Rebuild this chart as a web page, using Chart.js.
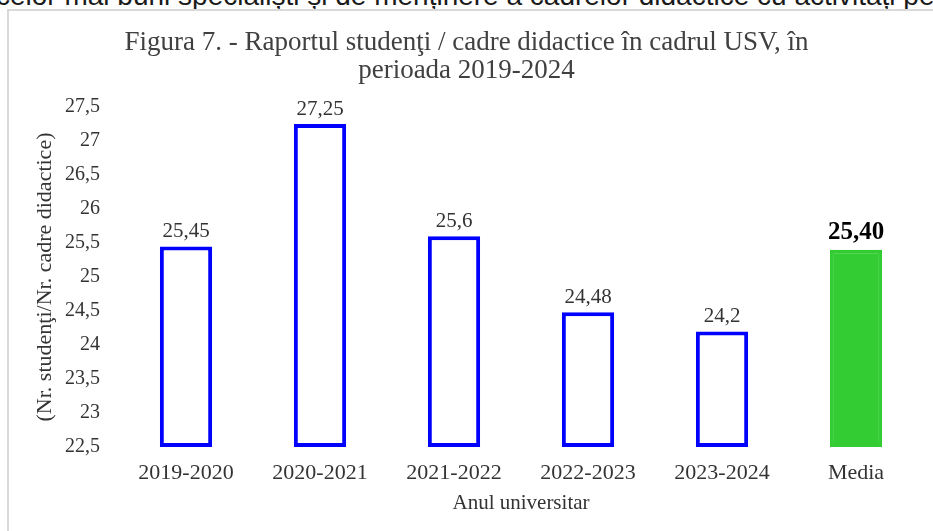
<!DOCTYPE html>
<html>
<head>
<meta charset="utf-8">
<script src="https://cdn.jsdelivr.net/npm/chart.js@4.4.1/dist/chart.umd.min.js"></script>
<style>
  html, body { margin: 0; padding: 0; background: #fff; overflow: hidden; }
  #page { position: relative; width: 933px; height: 531px; overflow: hidden; }
  #bodyText {
    position: absolute; left: -4px; top: -20px; white-space: nowrap;
    font-family: "Liberation Sans", Arial, sans-serif; font-size: 28px; color: #1a1a1a;
  }
  #frame {
    position: absolute; left: 7px; top: 9px; width: 1000px; height: 600px;
    border: 2px solid #d9d9d9;
  }
  #wrap { position: absolute; left: 0; top: 0; width: 933px; height: 531px; }
</style>
</head>
<body>
<div id="page">
  <div id="bodyText">celor mai buni specialiști și de menținere a cadrelor didactice cu activitați pe</div>
  <div id="frame"></div>
  <div id="wrap"><canvas id="myChart" width="933" height="531"></canvas></div>
</div>
<script>
const categories = ['2019-2020', '2020-2021', '2021-2022', '2022-2023', '2023-2024', 'Media'];
const ratios = [25.45, 27.25, 25.6, 24.48, 24.2, 25.40];
const yMin = 22.5;
const yMax = 27.5;
const yStep = 0.5;

const titleLines = ['Figura 7. - Raportul studenţi / cadre didactice în cadrul USV, în', 'perioada 2019-2024'];
const yTitle = '(Nr. studenţi/Nr. cadre didactice)';
const xTitle = 'Anul universitar';

const serif = '"Liberation Serif", "Times New Roman", serif';
const textColor = '#333333';

const fmt = (v) => String(v).replace('.', ',');

// value on top of every bar, media one in bold
const valueLabels = {
  id: 'valueLabels',
  afterDatasetsDraw(chart) {
    const ctx = chart.ctx;
    const meta = chart.getDatasetMeta(0);
    ctx.save();
    ctx.textAlign = 'center';
    ctx.textBaseline = 'alphabetic';
    meta.data.forEach((bar, i) => {
      const last = i === ratios.length - 1;
      ctx.font = (last ? 'bold 25px ' : '21px ') + serif;
      ctx.fillStyle = last ? '#000' : textColor;
      const txt = last ? fmt(ratios[i].toFixed(2)) : fmt(ratios[i]);
      ctx.fillText(txt, bar.x, bar.y - (last ? 11 : 9));
    });
    ctx.restore();
  }
};

const ctx = document.getElementById('myChart').getContext('2d');

new Chart(ctx, {
  type: 'bar',
  data: {
    labels: categories,
    datasets: [{
      data: ratios,
      base: yMin,
      backgroundColor: categories.map((c, i) => i === categories.length - 1 ? '#33CC33' : '#ffffff'),
      borderColor: categories.map((c, i) => i === categories.length - 1 ? '#33CC33' : '#0000FF'),
      borderWidth: 4,
      borderSkipped: false,
      barPercentage: 0.39,
      categoryPercentage: 1,
    }],
  },
  options: {
    responsive: false,
    animation: false,
    layout: { padding: { top: 0, left: 10, right: 10, bottom: 0 } },
    plugins: {
      legend: { display: false },
      tooltip: { enabled: false },
      title: {
        display: true,
        text: titleLines,
        color: '#404040',
        font: { family: serif, size: 27, weight: 'normal', lineHeight: 28 / 27 },
        padding: { top: 29, bottom: 22 },
      },
    },
    scales: {
      x: {
        grid: { display: false, drawTicks: false },
        border: { display: false },
        ticks: { color: textColor, font: { family: serif, size: 22 }, padding: 13 },
        title: { display: true, text: xTitle, color: textColor, font: { family: serif, size: 21 }, padding: { top: 0, bottom: 15 } },
        afterFit(scale) { scale.height = 84; },
      },
      y: {
        min: yMin,
        max: yMax,
        grid: { display: false, drawTicks: false },
        border: { display: false },
        ticks: {
          stepSize: yStep,
          color: textColor,
          font: { family: serif, size: 20 },
          padding: 19,
          callback: (v) => fmt(v),
        },
        title: { display: true, text: yTitle, color: textColor, font: { family: serif, size: 22 }, padding: { top: 22, bottom: 0 } },
        afterFit(scale) { scale.width = 109; },
      },
    },
  },
  plugins: [valueLabels],
});
</script>
</body>
</html>
